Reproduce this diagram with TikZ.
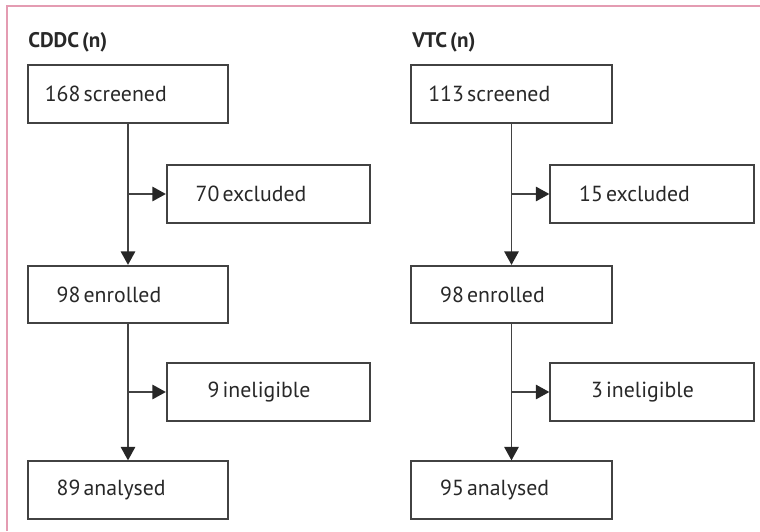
\documentclass[tikz,border=0pt]{standalone}
\usepackage{fontspec}
\setmainfont[WordSpace=0.55]{PT Sans}
\usetikzlibrary{arrows.meta}
\definecolor{framepink}{RGB}{228,156,178}
\definecolor{boxgray}{RGB}{66,66,66}
\definecolor{textgray}{RGB}{40,40,40}

\begin{document}
\begin{tikzpicture}[x=0.025cm,y=-0.025cm,
		box/.style={draw=boxgray, line width=1.4pt, minimum width=5cm, minimum height=1.43cm,
			inner xsep=12pt, text width=5cm-24pt, align=left, text=textgray, font=\fontsize{15.5}{18}\selectfont,
			execute at begin node={\spaceskip=0pt\xspaceskip=0pt\relax}},
		widebox/.style={box, minimum width=5.08cm, text width=5.08cm-24pt},
		head/.style={anchor=west, inner sep=0pt, text=textgray, font=\fontsize{15}{18}\selectfont\bfseries},
		link/.style={draw=boxgray, line width=1.4pt, -{Triangle[length=0.34cm,width=0.36cm,fill=black!85,color=black!85]}}]
		\useasboundingbox (0,0) rectangle (760,531);
		\draw[framepink, line width=1.4pt] (7,531)--(7,6)--(760,6);
		
		\node[head] (cddc) at (28,42) {CDDC (n)};
		\node[box] (cscr) at (128,94) {168 screened};
		\node[widebox] (cexc) at (268.5,194) {\phantom{0}70 excluded};
		\node[box] (cenr) at (128,294.5) {\phantom{0}98 enrolled};
		\node[widebox] (cinel) at (268.5,392) {\phantom{00}9 ineligible};
		\node[box] (cana) at (128,490) {\phantom{0}89 analysed};
		
		\node[head] (vtc) at (412,42) {VTC (n)};
		\node[box] (vscr) at (511.5,94) {113 screened};
		\node[widebox] (vexc) at (652,194) {\phantom{0}15 excluded};
		\node[box] (venr) at (511.5,294.5) {\phantom{0}98 enrolled};
		\node[widebox] (vinel) at (652,392) {\phantom{00}3 ineligible};
		\node[box] (vana) at (511.5,490) {\phantom{0}95 analysed};
		
		\draw[link] (cscr) -- (cenr);
		\draw[link] (cscr.south |- cexc.west) -- (cexc.west);
		\draw[link] (cenr) -- (cana);
		\draw[link] (cenr.south |- cinel.west) -- (cinel.west);
		\draw[link] (vscr) -- (venr);
		\draw[link] (vscr.south |- vexc.west) -- (vexc.west);
		\draw[link] (venr) -- (vana);
		\draw[link] (venr.south |- vinel.west) -- (vinel.west);
	\end{tikzpicture}
\end{document}
